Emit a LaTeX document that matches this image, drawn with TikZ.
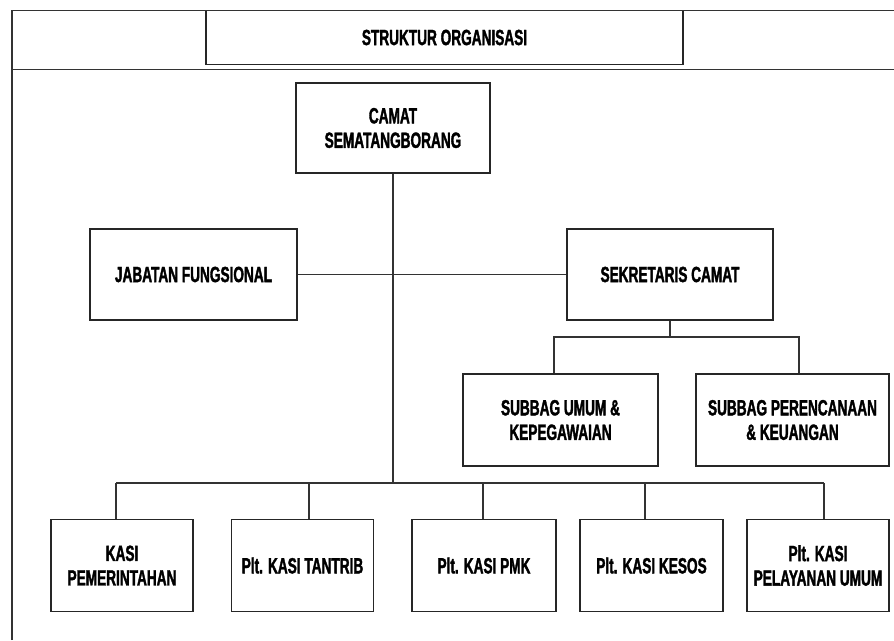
\documentclass[tikz,border=0pt]{standalone}
\usepackage{fontspec}
\setmainfont{Liberation Sans}[FakeStretch=0.62, BoldFeatures={FakeBold=1.6}]
\begin{document}
\begin{tikzpicture}[x=1pt,y=-1pt,
  frame/.style={line width=1.6pt, draw=black!80},
  link/.style={line width=1.4pt, draw=black!80},
  unit/.style={draw=black!85, line width=1.4pt, fill=white, inner sep=0pt,
    align=center, font=\bfseries\fontsize{22}{24.5}\selectfont},
]
\useasboundingbox (0,0) rectangle (894,640);

% outer frame, open to the right and bottom
\draw[frame] (12,640) -- (12,10.5) -- (894,10.5);
\draw[frame] (12,69.5) -- (894,69.5);

% title
\node[unit, minimum width=477pt, minimum height=54pt] (title) at (444.5,37.5) {STRUKTUR ORGANISASI};
\draw[frame] (12,10.5) -- (894,10.5);

% upper levels
\node[unit, minimum width=194pt, minimum height=90pt] (camat) at (393,128) {CAMAT\\SEMATANGBORANG};
\node[unit, minimum width=207pt, minimum height=91pt] (jab) at (193.5,274.5) {JABATAN FUNGSIONAL};
\node[unit, minimum width=206pt, minimum height=91pt] (sek) at (670,274.5) {SEKRETARIS CAMAT};

% sub-divisions of the secretariat
\node[unit, minimum width=195pt, minimum height=92pt] (umum) at (560.5,420) {SUBBAG UMUM \&\\KEPEGAWAIAN};
\node[unit, minimum width=193pt, minimum height=92pt] (renc) at (792.5,420) {SUBBAG PERENCANAAN\\\& KEUANGAN};

% sections
\node[unit, minimum width=142pt, minimum height=92pt] (pem) at (122,565.5) {KASI\\PEMERINTAHAN};
\node[unit, minimum width=142pt, minimum height=92pt] (tan) at (302.5,565.5) {Plt. KASI TANTRIB};
\node[unit, minimum width=144pt, minimum height=92pt] (pmk) at (484,565.5) {Plt. KASI PMK};
\node[unit, minimum width=143pt, minimum height=92pt] (kes) at (651.5,565.5) {Plt. KASI KESOS};
\node[unit, minimum width=142pt, minimum height=92pt] (pel) at (818,565.5) {Plt. KASI\\PELAYANAN UMUM};

% bus points
\coordinate (busTop) at (393,483);
\coordinate (sbL) at (554,337);
\coordinate (sbR) at (799,337);
\coordinate (b1) at (116,483);
\coordinate (b2) at (309,483);
\coordinate (b3) at (483,483);
\coordinate (b4) at (645,483);
\coordinate (b5) at (824,483);

% connectors
\draw[link] (camat.south) -- (busTop);
\draw[link] (jab.east) -- (sek.west);
\draw[link] (sek.south) -- (sek.south |- sbL);
\draw[link] (sbL |- umum.north) -- (sbL) -- (sbR) -- (sbR |- renc.north);
\draw[link] (b1) -- (b5);
\draw[link] (b1) -- (b1 |- pem.north);
\draw[link] (b2) -- (b2 |- tan.north);
\draw[link] (b3) -- (b3 |- pmk.north);
\draw[link] (b4) -- (b4 |- kes.north);
\draw[link] (b5) -- (b5 |- pel.north);
\end{tikzpicture}
\end{document}
